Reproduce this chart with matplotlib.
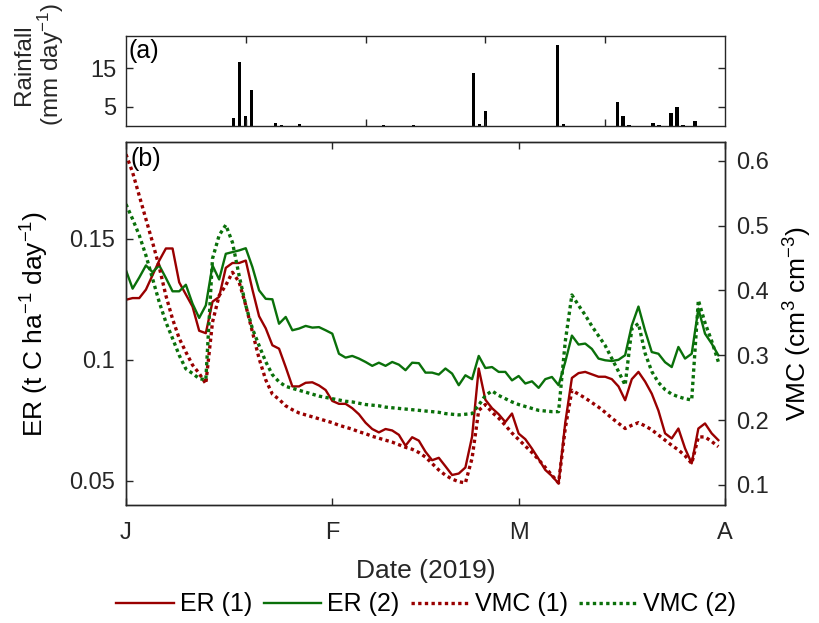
import numpy as np
import matplotlib
matplotlib.use('Agg')
import matplotlib.pyplot as plt

plt.rcParams['font.family'] = ['Liberation Sans', 'DejaVu Sans']
plt.rcParams['mathtext.fontset'] = 'custom'
plt.rcParams['mathtext.rm'] = 'Liberation Sans'
plt.rcParams['mathtext.it'] = 'Liberation Sans:italic'
plt.rcParams['mathtext.bf'] = 'Liberation Sans:bold'

# rainfall (top panel, own 0-100 axis)
rain_x = [18, 19, 20, 21, 25, 26, 29, 43, 48, 58, 59, 60, 72, 73, 82, 83, 84, 88, 89, 91, 92, 93, 95]
rain_mm = [2.2, 16.7, 2.7, 9.3, 0.7, 0.2, 0.5, 0.2, 0.2, 13.7, 0.6, 4.0, 21.1, 0.5,
           6.3, 2.7, 0.2, 0.8, 0.2, 3.4, 4.9, 0.2, 1.3]

# daily series, 1 Jan - 31 Mar 2019
dates = np.arange('2019-01-01', '2019-04-01', dtype='datetime64[D]')
er1 = [0.1248, 0.1255, 0.1255, 0.129, 0.135, 0.141, 0.146, 0.146, 0.132, 0.127,
       0.122, 0.112, 0.111, 0.124, 0.126, 0.138, 0.140, 0.140, 0.141, 0.129,
       0.118, 0.113, 0.106, 0.1046, 0.097, 0.089, 0.089, 0.0905, 0.0907, 0.0894,
       0.0875, 0.083, 0.0818, 0.0818, 0.080, 0.0775, 0.074, 0.0714, 0.070, 0.0714,
       0.0708, 0.069, 0.0645, 0.068, 0.0666, 0.062, 0.0585, 0.0595, 0.056, 0.0524,
       0.053, 0.0555, 0.0682, 0.0964, 0.0835, 0.080, 0.0775, 0.0743, 0.0778, 0.0695,
       0.0672, 0.0633, 0.059, 0.0545, 0.052, 0.0489, 0.074, 0.0925, 0.0945, 0.095,
       0.094, 0.093, 0.093, 0.092, 0.089, 0.0833, 0.092, 0.095, 0.091, 0.086,
       0.079, 0.0696, 0.0675, 0.0716, 0.0634, 0.0572, 0.0716, 0.0737, 0.0696, 0.0668]
er2 = [0.137, 0.1294, 0.134, 0.139, 0.1362, 0.139, 0.1338, 0.1283, 0.1283, 0.131,
       0.1232, 0.1173, 0.1225, 0.139, 0.1332, 0.1438, 0.1445, 0.1452, 0.1461, 0.1383,
       0.1287, 0.1252, 0.125, 0.1149, 0.1177, 0.1122, 0.1129, 0.114, 0.1133, 0.1135,
       0.1122, 0.1108, 0.1025, 0.1009, 0.1016, 0.1005, 0.0991, 0.0975, 0.0988, 0.0975,
       0.0991, 0.098, 0.0957, 0.0988, 0.0986, 0.0947, 0.0947, 0.0939, 0.0964, 0.0943,
       0.0895, 0.0936, 0.092, 0.1016, 0.0966, 0.097, 0.095, 0.095, 0.0915, 0.0933,
       0.0902, 0.0911, 0.0884, 0.092, 0.0929, 0.0895, 0.0991, 0.110, 0.1063, 0.1067,
       0.1045, 0.1005, 0.0998, 0.0995, 0.100, 0.1019, 0.1142, 0.122, 0.112, 0.1032,
       0.1025, 0.099, 0.097, 0.1053, 0.1005, 0.1025, 0.1211, 0.1108, 0.1067, 0.1019]
vmc1 = [0.610, 0.582, 0.546, 0.510, 0.474, 0.436, 0.392, 0.356, 0.326, 0.305,
        0.285, 0.272, 0.256, 0.351, 0.392, 0.408, 0.428, 0.413, 0.377, 0.336,
        0.295, 0.262, 0.240, 0.232, 0.222, 0.216, 0.211, 0.208, 0.205, 0.202,
        0.199, 0.196, 0.192, 0.189, 0.186, 0.182, 0.179, 0.175, 0.172, 0.169,
        0.166, 0.162, 0.158, 0.155, 0.150, 0.143, 0.133, 0.123, 0.115, 0.109,
        0.105, 0.103, 0.141, 0.215, 0.224, 0.212, 0.203, 0.192, 0.180, 0.170,
        0.160, 0.150, 0.139, 0.127, 0.115, 0.103, 0.187, 0.246, 0.240, 0.234,
        0.227, 0.220, 0.212, 0.203, 0.195, 0.187, 0.192, 0.196, 0.191, 0.185,
        0.177, 0.169, 0.161, 0.154, 0.145, 0.133, 0.174, 0.174, 0.167, 0.159]
vmc2 = [0.533, 0.510, 0.485, 0.454, 0.418, 0.382, 0.351, 0.326, 0.300, 0.279,
        0.272, 0.264, 0.262, 0.449, 0.485, 0.501, 0.474, 0.423, 0.377, 0.341,
        0.315, 0.290, 0.270, 0.259, 0.252, 0.249, 0.246, 0.243, 0.240, 0.237,
        0.235, 0.233, 0.231, 0.229, 0.228, 0.226, 0.224, 0.223, 0.222, 0.220,
        0.219, 0.218, 0.217, 0.216, 0.215, 0.214, 0.213, 0.212, 0.210, 0.209,
        0.208, 0.209, 0.210, 0.223, 0.238, 0.245, 0.238, 0.233, 0.228, 0.224,
        0.221, 0.218, 0.215, 0.214, 0.213, 0.213, 0.321, 0.393, 0.377, 0.362,
        0.345, 0.330, 0.315, 0.295, 0.275, 0.254, 0.341, 0.349, 0.303, 0.275,
        0.258, 0.247, 0.240, 0.236, 0.233, 0.231, 0.385, 0.350, 0.322, 0.290]

month_ticks = np.array(['2019-01-01', '2019-02-01', '2019-03-01', '2019-04-01'], dtype='datetime64[D]')
month_labels = ['J', 'F', 'M', 'A']

red = '#990000'
green = '#0a700a'
txt = '#262626'
fs = 17

fig = plt.figure(figsize=(8.19, 6.23), dpi=100)

# (a) rainfall
ax1 = fig.add_axes([0.1538, 0.7978, 0.7314, 0.1444])
ax1.bar(rain_x, rain_mm, width=0.55, color='k')
ax1.set_xlim(0, 100)
ax1.set_ylim(0, 23.4)
ax1.set_xticks([20, 40, 60, 80])
ax1.set_xticklabels([])
ax1.set_yticks([5, 15])
ax1.tick_params(direction='in', top=True, right=True, length=5, width=1,
                labelsize=fs, colors=txt, pad=7)
ax1.set_ylabel('Rainfall\n(mm day$^{-1}$)', fontsize=17.5, color=txt, linespacing=1.05)
ax1.yaxis.set_label_coords(-0.1, 0.68)
ax1.text(0.005, 0.97, '(a)', transform=ax1.transAxes, va='top', ha='left', fontsize=18, color='k')

# (b) ER and VMC
ax2 = fig.add_axes([0.1538, 0.1894, 0.7314, 0.5827])
l1, = ax2.plot(dates, er1, color=red, lw=1.7)
l2, = ax2.plot(dates, er2, color=green, lw=1.7)
ax2.set_ylim(0.04, 0.19)
ax2.set_yticks([0.05, 0.1, 0.15])
ax2.set_yticklabels(['0.05', '0.1', '0.15'])
ax2.set_xlim(month_ticks[0], month_ticks[-1])
ax2.set_xticks(month_ticks)
ax2.set_xticklabels(month_labels)
ax2.tick_params(axis='x', direction='in', top=True, length=5, width=1,
                labelsize=fs, colors=txt, pad=12)
ax2.tick_params(axis='y', direction='in', length=5, width=1, labelsize=fs, colors=txt, pad=8)
ax2.set_ylabel('ER (t C ha$^{-1}$ day$^{-1}$)', fontsize=19, color='k')
ax2.yaxis.set_label_coords(-0.125, 0.5)
ax2.set_xlabel('Date (2019)', fontsize=19, color=txt, labelpad=11)
ax2.text(0.008, 0.985, '(b)', transform=ax2.transAxes, va='top', ha='left', fontsize=18, color='k')

ax3 = ax2.twinx()
l3, = ax3.plot(dates, vmc1, color=red, lw=2.4, ls=(0, (1, 1)))
l4, = ax3.plot(dates, vmc2, color=green, lw=2.4, ls=(0, (1, 1)))
ax3.set_ylim(0.069, 0.629)
ax3.set_yticks([0.1, 0.2, 0.3, 0.4, 0.5, 0.6])
ax3.tick_params(axis='y', direction='in', length=5, width=1, labelsize=fs, colors=txt, pad=8)
ax3.set_ylabel('VMC (cm$^{3}$ cm$^{-3}$)', fontsize=19, color='k')
ax3.yaxis.set_label_coords(1.095, 0.5)

for a in (ax1, ax2, ax3):
    for s in a.spines.values():
        s.set_color(txt)
        s.set_linewidth(1.0)

fig.legend([l1, l2, l3, l4], ['ER (1)', 'ER (2)', 'VMC (1)', 'VMC (2)'],
           loc='center', bbox_to_anchor=(0.52, 0.03), ncol=4, frameon=False,
           fontsize=18, handlelength=2.3, handletextpad=0.25, columnspacing=0.45)

fig.savefig('out.png', dpi=100)
